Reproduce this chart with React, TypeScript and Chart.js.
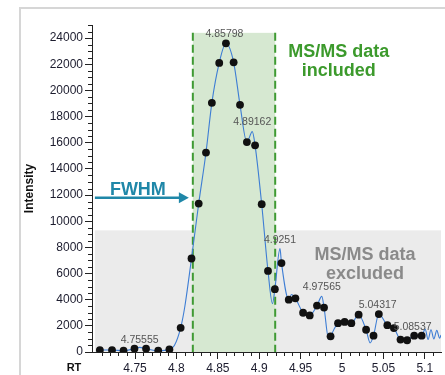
import React, { useEffect, useRef } from 'react';
import { Chart, registerables } from 'chart.js';

Chart.register(...registerables);

// MS scans (black dots)
const scanRT = [
  4.7075, 4.7222, 4.7361, 4.7493, 4.7633, 4.778, 4.7915, 4.8051, 4.8182, 4.8269,
  4.8357, 4.8428, 4.8517, 4.8598, 4.8691, 4.8768, 4.8851, 4.895, 4.903, 4.9106,
  4.9189, 4.9269, 4.9357, 4.9437, 4.953, 4.961, 4.9698, 4.9783, 4.9862, 4.9952,
  5.0032, 5.0113, 5.0201, 5.0291, 5.0381, 5.0445, 5.0548, 5.0627, 5.0707, 5.0787,
  5.0872, 5.0962,
];
const scanIntensity = [
  150, 150, 100, 250, 250, 100, 200, 1850, 7150, 11350,
  15250, 19050, 22100, 23600, 22150, 18900, 16050, 15800, 11300, 6200,
  4800, 6800, 4000, 4100, 3000, 2800, 3550, 3400, 1200, 2200,
  2300, 2200, 2850, 1700, 1250, 2900, 2050, 1830, 950, 900,
  1250, 1250,
];

// Profile trace (blue line)
const profileRT = [
  4.703, 4.7075, 4.7222, 4.7361, 4.7493, 4.75555, 4.7633, 4.778, 4.7915, 4.7975,
  4.8051, 4.8102, 4.8182, 4.8269, 4.8357, 4.8428, 4.8517, 4.8598, 4.8691, 4.8768,
  4.8851, 4.89162, 4.895, 4.903, 4.9106, 4.916, 4.9189, 4.9251, 4.9269, 4.9357,
  4.939, 4.9437, 4.953, 4.961, 4.9698, 4.97565, 4.9783, 4.984, 4.9862, 4.9952,
  5.0032, 5.0113, 5.0201, 5.0291, 5.034, 5.0381, 5.0445, 5.0548, 5.0627, 5.0707,
  5.0787, 5.0872, 5.0962, 5.1005, 5.104, 5.1075, 5.111, 5.1145, 5.118, 5.1196,
];
const profileIntensity = [
  100, 150, 150, 100, 250, 350, 250, 100, 200, 500,
  1850, 3500, 7150, 11350, 15250, 19050, 22100, 23600, 22150, 18900,
  16050, 16850, 15800, 11300, 6200, 3700, 4800, 7900, 6800, 4000,
  4400, 4100, 3000, 2800, 3550, 4250, 3400, 950, 1200, 2200,
  2300, 2200, 2850, 1700, 700, 1250, 2900, 2050, 1830, 950,
  900, 1250, 1250, 1750, 950, 1700, 1000, 1650, 1050, 1300,
];

const peakLabelRT = [4.75555, 4.85798, 4.89162, 4.9251, 4.97565, 5.04317, 5.08537];
const peakLabelText = ['4.75555', '4.85798', '4.89162', '4.9251', '4.97565', '5.04317', '5.08537'];
const peakLabelIntensity = [250, 23600, 16850, 7900, 4250, 2900, 1250];

const xTickValues = [4.75, 4.8, 4.85, 4.9, 4.95, 5, 5.05, 5.1];
const yTickValues = [0, 2000, 4000, 6000, 8000, 10000, 12000, 14000, 16000, 18000, 20000, 22000, 24000];

const xMin = 4.698;
const xMax = 5.1196;
const yMax = 25000;

const includedWindow = [4.8198, 4.9193];
const includedTop = 24400;
const excludedStart = 4.7015;
const excludedTop = 9300;
const fwhmLevel = 11800;
const fwhmArrowRange = [4.7015, 4.815];

const includedText = ['MS/MS data', 'included'];
const excludedText = ['MS/MS data', 'excluded'];

const FONT = '"Liberation Sans", Arial, sans-serif';

const overlayPlugin = {
  id: 'overlay',
  beforeDraw(chart: any) {
    const ctx = chart.ctx;
    ctx.save();
    ctx.strokeStyle = '#d6d6d6';
    ctx.lineWidth = 2;
    ctx.beginPath();
    ctx.moveTo(20, 375);
    ctx.lineTo(20, 8);
    ctx.lineTo(445, 8);
    ctx.stroke();
    ctx.restore();
  },
  beforeDatasetsDraw(chart: any) {
    const ctx = chart.ctx;
    const xs = chart.scales.x;
    const ys = chart.scales.y;
    const area = chart.chartArea;
    ctx.save();
    // excluded region
    const gx0 = xs.getPixelForValue(excludedStart);
    const gy0 = ys.getPixelForValue(excludedTop);
    const gy1 = ys.getPixelForValue(0);
    ctx.fillStyle = '#ebebeb';
    ctx.fillRect(gx0, gy0, area.right - gx0, gy1 - gy0);
    // included window
    const ix0 = xs.getPixelForValue(includedWindow[0]);
    const ix1 = xs.getPixelForValue(includedWindow[1]);
    const iy0 = ys.getPixelForValue(includedTop);
    ctx.fillStyle = '#d6e8d1';
    ctx.fillRect(ix0, iy0, ix1 - ix0, gy1 - iy0);
    ctx.strokeStyle = '#3f9a33';
    ctx.lineWidth = 2;
    ctx.setLineDash([8, 4]);
    for (const px of [ix0, ix1]) {
      ctx.beginPath();
      ctx.moveTo(px, iy0);
      ctx.lineTo(px, gy1);
      ctx.stroke();
    }
    ctx.setLineDash([]);
    ctx.restore();
  },
  afterDatasetsDraw(chart: any) {
    const ctx = chart.ctx;
    const xs = chart.scales.x;
    const ys = chart.scales.y;
    const area = chart.chartArea;
    ctx.save();
    // peak labels
    ctx.font = `10.5px ${FONT}`;
    ctx.fillStyle = '#555555';
    ctx.textAlign = 'center';
    ctx.textBaseline = 'middle';
    peakLabelRT.forEach((rt, i) => {
      ctx.fillText(peakLabelText[i], xs.getPixelForValue(rt), ys.getPixelForValue(peakLabelIntensity[i]) - 9);
    });
    // region texts
    ctx.font = `bold 18px ${FONT}`;
    ctx.fillStyle = '#3c9a2c';
    ctx.fillText(includedText[0], xs.getPixelForValue(4.9962), ys.getPixelForValue(22950));
    ctx.fillText(includedText[1], xs.getPixelForValue(4.9962), ys.getPixelForValue(21480));
    ctx.fillStyle = '#8a8a8a';
    ctx.fillText(excludedText[0], xs.getPixelForValue(5.0277), ys.getPixelForValue(7420));
    ctx.fillText(excludedText[1], xs.getPixelForValue(5.0277), ys.getPixelForValue(5940));
    // FWHM arrow
    const ay = ys.getPixelForValue(fwhmLevel);
    const ax0 = xs.getPixelForValue(fwhmArrowRange[0]);
    const ax1 = xs.getPixelForValue(fwhmArrowRange[1]);
    ctx.strokeStyle = '#1f87a8';
    ctx.fillStyle = '#1f87a8';
    ctx.lineWidth = 2.5;
    ctx.beginPath();
    ctx.moveTo(ax0, ay);
    ctx.lineTo(ax1 - 8, ay);
    ctx.stroke();
    ctx.beginPath();
    ctx.moveTo(ax1, ay);
    ctx.lineTo(ax1 - 10, ay - 5.5);
    ctx.lineTo(ax1 - 10, ay + 5.5);
    ctx.closePath();
    ctx.fill();
    ctx.font = `bold 18px ${FONT}`;
    ctx.textBaseline = 'alphabetic';
    ctx.fillText('FWHM', (ax0 + ax1) / 2 - 4, ay - 3);
    // minor ticks
    ctx.strokeStyle = '#222222';
    ctx.lineWidth = 1;
    ctx.beginPath();
    for (let k = 470; k <= 511; k++) {
      if (k % 5 === 0) continue;
      const px = Math.round(xs.getPixelForValue(k / 100)) + 0.5;
      if (px < area.left || px > area.right) continue;
      ctx.moveTo(px, area.bottom);
      ctx.lineTo(px, area.bottom + 4);
    }
    for (let v = 500; v <= 25000; v += 500) {
      if (v % 2000 === 0) continue;
      const py = Math.round(ys.getPixelForValue(v)) + 0.5;
      ctx.moveTo(area.left, py);
      ctx.lineTo(area.left - 4, py);
    }
    ctx.stroke();
    // axis titles
    ctx.fillStyle = '#111111';
    ctx.font = `bold 11px ${FONT}`;
    ctx.textAlign = 'center';
    ctx.textBaseline = 'middle';
    ctx.fillText('RT', 74, 368);
    ctx.save();
    ctx.translate(30, (area.top + area.bottom) / 2);
    ctx.rotate(-Math.PI / 2);
    ctx.font = `bold 12px ${FONT}`;
    ctx.fillText('Intensity', 0, 0);
    ctx.restore();
    ctx.restore();
  },
};

export default function App() {
  const canvasRef = useRef<HTMLCanvasElement | null>(null);

  useEffect(() => {
    const canvas = canvasRef.current;
    if (!canvas) return;
    const scanData = scanRT.map((x, i) => ({ x, y: scanIntensity[i] }));
    const profileData = profileRT.map((x, i) => ({ x, y: profileIntensity[i] }));
    const chart = new Chart(canvas, {
      type: 'scatter',
      data: {
        datasets: [
          {
            label: 'scans',
            data: scanData,
            showLine: false,
            pointRadius: 3.9,
            pointBackgroundColor: '#111111',
            pointBorderColor: '#111111',
            pointBorderWidth: 0,
          },
          {
            label: 'profile',
            data: profileData,
            showLine: true,
            pointRadius: 0,
            borderColor: '#3d7dd4',
            borderWidth: 1.1,
            cubicInterpolationMode: 'monotone',
          },
        ],
      },
      options: {
        animation: false,
        responsive: false,
        devicePixelRatio: 1,
        layout: { padding: { top: 25, left: 0, right: 0, bottom: 0 } },
        plugins: { legend: { display: false }, tooltip: { enabled: false } },
        scales: {
          x: {
            type: 'linear',
            min: xMin,
            max: xMax,
            afterBuildTicks: (scale: any) => {
              scale.ticks = xTickValues.map((v) => ({ value: v }));
            },
            afterFit: (scale: any) => {
              scale.height = 23;
            },
            ticks: {
              callback: (v: any) => String(v),
              font: { size: 12, family: FONT },
              color: '#1c1c2e',
              padding: 2,
              maxRotation: 0,
              autoSkip: false,
            },
            grid: {
              display: true,
              drawOnChartArea: false,
              drawTicks: true,
              tickLength: 7,
              tickColor: '#222222',
            },
            border: { display: true, color: '#222222', width: 1 },
          },
          y: {
            type: 'linear',
            min: 0,
            max: yMax,
            afterBuildTicks: (scale: any) => {
              scale.ticks = yTickValues.map((v) => ({ value: v }));
            },
            afterFit: (scale: any) => {
              scale.width = 92;
            },
            ticks: {
              callback: (v: any) => String(v),
              font: { size: 12, family: FONT },
              color: '#1c1c2e',
              padding: 2,
              autoSkip: false,
            },
            grid: {
              display: true,
              drawOnChartArea: false,
              drawTicks: true,
              tickLength: 7,
              tickColor: '#222222',
            },
            border: { display: true, color: '#222222', width: 1 },
          },
        },
      },
      plugins: [overlayPlugin],
    } as any);
    return () => chart.destroy();
  }, []);

  return (
    <div style={{ position: 'absolute', left: 0, top: 0, width: 445, height: 375, background: '#ffffff' }}>
      <canvas ref={canvasRef} width={445} height={375} style={{ display: 'block' }} />
    </div>
  );
}
